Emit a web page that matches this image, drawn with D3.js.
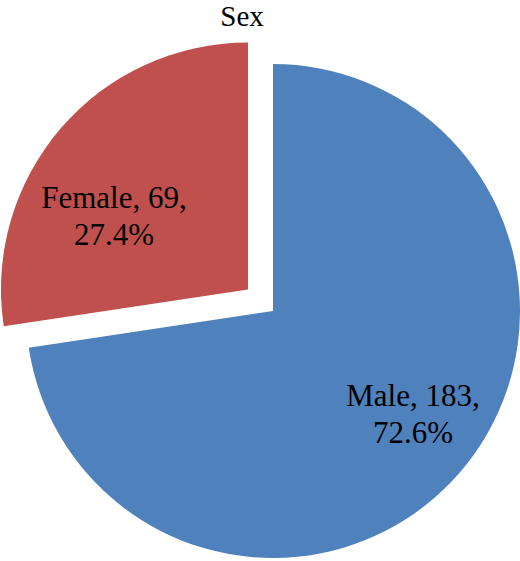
<!DOCTYPE html>
<html>
<head>
<meta charset="utf-8">
<script src="https://cdn.jsdelivr.net/npm/d3@7"></script>
<style>
  html, body { margin: 0; padding: 0; background: #fff; }
  svg { display: block; }
</style>
</head>
<body>
<svg></svg>
<script>
// Data
const categories = ["Male", "Female"];
const counts = [183, 69];
const percents = ["72.6%", "27.4%"];
const colors = ["#4F81BD", "#C0504D"];
const explode = [0, 33]; // pixel offset per slice

const width = 520, height = 561;
const cx = 273, cy = 311, radius = 247;

const svg = d3.select("svg")
    .attr("width", width)
    .attr("height", height);

// Title
svg.append("text")
    .attr("x", 242)
    .attr("y", 26)
    .attr("text-anchor", "middle")
    .attr("font-family", "Liberation Serif, Times New Roman, serif")
    .attr("font-size", "29px")
    .attr("fill", "#000")
    .text("Sex");

const data = categories.map((c, i) => ({ name: c, value: counts[i], pct: percents[i], color: colors[i], off: explode[i] }));

const pie = d3.pie()
    .sort(null)
    .value(d => d.value);

const arc = d3.arc()
    .innerRadius(0)
    .outerRadius(radius);

const arcs = pie(data);

const g = svg.append("g")
    .attr("transform", `translate(${cx},${cy})`);

// Shift a slice along its bisector
function shift(d) {
    const a = (d.startAngle + d.endAngle) / 2;
    return [Math.sin(a) * d.data.off, -Math.cos(a) * d.data.off];
}

const slice = g.selectAll("g.slice")
    .data(arcs)
    .join("g")
    .attr("class", "slice")
    .attr("transform", d => `translate(${shift(d)})`);

slice.append("path")
    .attr("d", arc)
    .attr("fill", d => d.data.color);

// Baselines of the first label line, page coords
const labelPos = [[413, 406], [114, 208]];

slice.append("text")
    .attr("text-anchor", "middle")
    .attr("font-family", "Liberation Serif, Times New Roman, serif")
    .attr("font-size", "31px")
    .attr("fill", "#000")
    .each(function(d, i) {
        const s = shift(d);
        const x = labelPos[i][0] - cx - s[0];
        const y = labelPos[i][1] - cy - s[1];
        const t = d3.select(this);
        t.append("tspan").attr("x", x).attr("y", y).text(`${d.data.name}, ${d.data.value},`);
        t.append("tspan").attr("x", x).attr("y", y + 37).text(d.data.pct);
    });
</script>
</body>
</html>
